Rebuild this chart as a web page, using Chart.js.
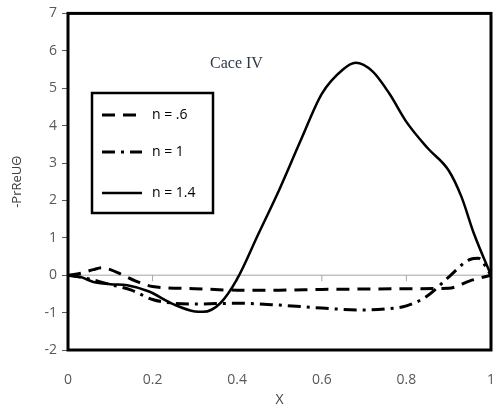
<!DOCTYPE html>
<html>
<head>
<meta charset="utf-8">
<script src="https://cdn.jsdelivr.net/npm/chart.js@4.4.1/dist/chart.umd.min.js"></script>
<style>
  html, body { margin: 0; padding: 0; background: #fff; }
  #wrap { width: 496px; height: 412px; }
</style>
</head>
<body>
<div id="wrap"><canvas id="chart"></canvas></div>
<script>
// values
const xs06 = [0, 0.03, 0.06, 0.08, 0.1, 0.13, 0.17, 0.2, 0.3, 0.4, 0.5, 0.6, 0.7, 0.8, 0.9, 0.95, 1];
const ys06 = [0, 0.05, 0.15, 0.2, 0.15, 0, -0.2, -0.3, -0.36, -0.4, -0.4, -0.38, -0.37, -0.36, -0.35, -0.15, 0];

const xs10 = [0, 0.05, 0.1, 0.15, 0.2, 0.25, 0.3, 0.4, 0.5, 0.6, 0.7, 0.75, 0.8, 0.85, 0.9, 0.95, 0.97, 1];
const ys10 = [0, -0.1, -0.25, -0.4, -0.65, -0.75, -0.77, -0.75, -0.8, -0.88, -0.93, -0.9, -0.82, -0.55, -0.05, 0.42, 0.45, 0];

const xs14 = [0, 0.03, 0.06, 0.1, 0.14, 0.19, 0.25, 0.3, 0.32, 0.36, 0.4, 0.45, 0.5, 0.55, 0.6, 0.65, 0.68, 0.72, 0.76, 0.8, 0.85, 0.9, 0.93, 0.96, 1];
const ys14 = [0, -0.05, -0.18, -0.24, -0.27, -0.43, -0.78, -0.97, -0.98, -0.75, -0.1, 1.1, 2.3, 3.6, 4.85, 5.5, 5.68, 5.45, 4.85, 4.1, 3.4, 2.8, 2.1, 1.1, 0];

const seriesLabels = ['n = .6', 'n = 1', 'n = 1.4'];
const xTicks = [0, 0.2, 0.4, 0.6, 0.8, 1];
const xTickLabels = ['0', '0.2', '0.4', '0.6', '0.8', '1'];
const yTicks = [-2, -1, 0, 1, 2, 3, 4, 5, 6, 7];

const pts = (xs, ys) => xs.map((x, i) => ({ x: x, y: ys[i] }));

// frame, zero line and legend box drawn on the canvas
const extras = {
  id: 'extras',
  beforeDatasetsDraw(chart) {
    const { ctx, chartArea: a, scales } = chart;
    const y0 = scales.y.getPixelForValue(0);
    ctx.save();
    ctx.strokeStyle = '#a6a6a6';
    ctx.lineWidth = 1;
    ctx.beginPath();
    ctx.moveTo(a.left, y0);
    ctx.lineTo(a.right, y0);
    xTicks.forEach(v => {
      const px = scales.x.getPixelForValue(v);
      ctx.moveTo(px, y0);
      ctx.lineTo(px, y0 + 6);
    });
    ctx.stroke();
    ctx.restore();
  },
  afterDraw(chart) {
    const { ctx, chartArea: a } = chart;
    ctx.save();
    ctx.strokeStyle = '#000';
    ctx.lineWidth = 3;
    ctx.strokeRect(a.left, a.top, a.right - a.left, a.bottom - a.top);

    // title inside the plot
    ctx.fillStyle = '#2f3a4a';
    ctx.font = '16px "Liberation Serif", serif';
    ctx.textBaseline = 'middle';
    ctx.fillText('Cace IV', a.left + 142, 64);

    // legend
    const bx = a.left + 24, by = 93, bw = 121, bh = 120;
    ctx.lineWidth = 2.5;
    ctx.strokeRect(bx, by, bw, bh);
    ctx.font = '14px "Open Sans", sans-serif';
    ctx.fillStyle = '#000';
    const rows = [115, 152, 193];
    chart.data.datasets.forEach((ds, i) => {
      ctx.beginPath();
      ctx.setLineDash(ds.borderDash || []);
      ctx.lineWidth = ds.borderWidth;
      ctx.moveTo(bx + 10, rows[i]);
      ctx.lineTo(bx + 50, rows[i]);
      ctx.stroke();
      ctx.setLineDash([]);
      ctx.fillText(ds.label, bx + 60, rows[i]);
    });
    ctx.restore();
  }
};

new Chart(document.getElementById('chart'), {
  type: 'line',
  data: {
    datasets: [
      { label: seriesLabels[0], data: pts(xs06, ys06), borderColor: '#000', borderWidth: 3, borderDash: [13, 8] },
      { label: seriesLabels[1], data: pts(xs10, ys10), borderColor: '#000', borderWidth: 3, borderDash: [13, 6, 3, 6] },
      { label: seriesLabels[2], data: pts(xs14, ys14), borderColor: '#000', borderWidth: 2.5 }
    ]
  },
  options: {
    responsive: true,
    maintainAspectRatio: false,
    animation: false,
    layout: { padding: { top: 13, right: 5, left: 5, bottom: 0 } },
    elements: {
      point: { radius: 0 },
      line: { cubicInterpolationMode: 'monotone', fill: false }
    },
    plugins: { legend: { display: false }, tooltip: { enabled: false } },
    scales: {
      x: {
        type: 'linear',
        min: 0,
        max: 1,
        afterBuildTicks(scale) { scale.ticks = xTicks.map(v => ({ value: v })); },
        afterFit(scale) { scale.height = 62; scale.paddingRight = 0; scale.paddingLeft = 0; },
        grid: { display: false },
        border: { display: false },
        ticks: {
          color: '#595959',
          font: { size: 14, family: '"Open Sans", sans-serif' },
          padding: 14,
          callback: (v) => xTickLabels[xTicks.indexOf(v)]
        },
        title: { display: true, text: 'X', color: '#404040', font: { size: 14, family: '"Open Sans", sans-serif' }, padding: { top: 0 } }
      },
      y: {
        min: -2,
        max: 7,
        afterBuildTicks(scale) { scale.ticks = yTicks.map(v => ({ value: v })); },
        afterFit(scale) { scale.width = 63; },
        grid: { drawOnChartArea: false, color: '#595959', tickLength: 6, lineWidth: 1 },
        border: { display: false },
        ticks: { color: '#595959', font: { size: 14, family: '"Open Sans", sans-serif' }, padding: 5 },
        title: { display: true, text: '-PrReUΘ', color: '#404040', font: { size: 13, family: '"Open Sans", sans-serif' }, padding: { bottom: 0 } }
      }
    }
  },
  plugins: [extras]
});
</script>
</body>
</html>
